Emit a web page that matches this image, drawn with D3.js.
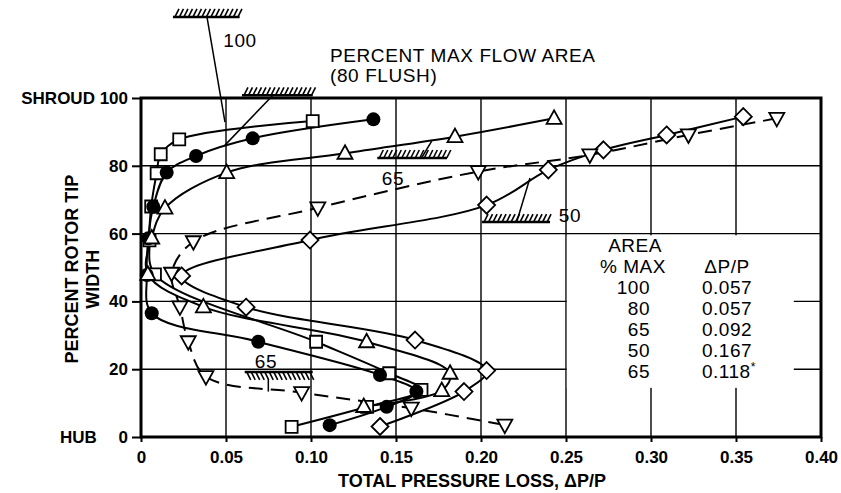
<html>
<head>
<meta charset="utf-8" />
<script src="https://d3js.org/d3.v7.min.js"></script>
<style>
  body { margin: 0; background: #fff; }
  text { font-family: "Liberation Sans", Arial, Helvetica, sans-serif; fill: #000; }
</style>
</head>
<body>
<div id="chart"></div>
<script>
// [loss dP/P, percent span], shroud to hub
const area100 = [[0.101,93.2],[0.0225,87.8],[0.0116,83.4],[0.0092,77.8],[0.006,68],[0.005,58],[0.0082,48],
                 [0.103,28.1],[0.146,18.8],[0.165,13.9],[0.133,8.9],[0.0886,3.0]];
const area80  = [[0.1367,93.7],[0.0657,88.1],[0.0324,82.9],[0.0151,78],[0.0072,67.9],[0.0043,58.6],[0.0034,47.8],
                 [0.0063,36.5],[0.069,28.1],[0.1406,18.3],[0.162,13.4],[0.1445,8.9],[0.111,3.5]];
const area65  = [[0.243,94],[0.1847,88.6],[0.12,83.7],[0.0504,78],[0.0141,67.5],[0.0063,58.7],[0.004,48],
                 [0.0367,38.4],[0.1327,28.1],[0.1818,18.8],[0.1769,13.7],[0.131,9.0]];
const area50  = [[0.3543,94.5],[0.3092,89.1],[0.272,84.7],[0.2396,78.8],[0.2033,68.4],[0.0994,58.1],[0.0239,47.5],
                 [0.0618,38.3],[0.1612,28.6],[0.2033,19.6],[0.19,13.4],[0.1406,3.1]];
const area65b = [[0.374,94],[0.322,89.1],[0.264,83.2],[0.1984,78.3],[0.104,67.6],[0.0308,57.6],[0.018,48.3],
                 [0.0229,38.4],[0.0278,28.1],[0.0382,17.8],[0.0945,13.1],[0.159,8.5],[0.214,3.5]];

const xTicks = [0, 0.05, 0.10, 0.15, 0.20, 0.25, 0.30, 0.35, 0.40];
const yTicks = [0, 20, 40, 60, 80, 100];
const tableArea = ["100", "80", "65", "50", "65"];
const tableLoss = ["0.057", "0.057", "0.092", "0.167", "0.118"];

const W = 841, H = 493;
const x = d3.scaleLinear().domain([0, 0.4]).range([141, 821]);
const y = d3.scaleLinear().domain([0, 100]).range([437, 98]);

const svg = d3.select("#chart").append("svg").attr("width", W).attr("height", H);
svg.append("rect").attr("width", W).attr("height", H).attr("fill", "#fff");

// grid
const grid = svg.append("g").attr("stroke", "#000").attr("stroke-width", 1.4);
grid.selectAll(".vx").data(xTicks.slice(1, -1)).join("line")
  .attr("x1", d => x(d)).attr("x2", d => x(d)).attr("y1", y(0)).attr("y2", y(100));
grid.selectAll(".hy").data(yTicks.slice(1, -1)).join("line")
  .attr("x1", x(0)).attr("x2", x(0.4)).attr("y1", d => y(d)).attr("y2", d => y(d));

// blank area behind the table
svg.append("rect").attr("x", x(0.2505)).attr("y", y(59.5))
  .attr("width", x(0.384) - x(0.2505)).attr("height", y(14.5) - y(59.5)).attr("fill", "#fff");

// axes
const xAxis = svg.append("g").attr("transform", `translate(0,${y(0)})`)
  .call(d3.axisBottom(x).tickValues(xTicks).tickSize(5).tickPadding(9).tickSizeOuter(0)
    .tickFormat(d => d === 0 ? "0" : d3.format(".2f")(d)));
const yAxis = svg.append("g").attr("transform", `translate(${x(0)},0)`)
  .call(d3.axisLeft(y).tickValues(yTicks).tickSize(9).tickPadding(4).tickSizeOuter(0)
    .tickFormat(d => d === 100 ? "SHROUD 100" : d));
[xAxis, yAxis].forEach(a => {
  a.select(".domain").remove();
  a.selectAll("line").attr("stroke", "#000").attr("stroke-width", 2);
  a.selectAll("text").attr("font-size", 17).attr("font-weight", "bold").attr("fill", "#000")
    .style("font-family", '"Liberation Sans", Arial, sans-serif');
});
svg.append("text").attr("x", 60).attr("y", y(0)).attr("dy", "0.35em")
  .attr("font-size", 17).attr("font-weight", "bold").text("HUB");

// frame
svg.append("rect").attr("x", x(0)).attr("y", y(100))
  .attr("width", x(0.4) - x(0)).attr("height", y(0) - y(100))
  .attr("fill", "none").attr("stroke", "#000").attr("stroke-width", 3);

// axis titles
svg.append("text").attr("x", 338).attr("y", 487).attr("font-size", 18).attr("font-weight", "bold")
  .text("TOTAL PRESSURE LOSS, ΔP/P");
svg.append("text").attr("transform", `translate(78,${y(49.5)}) rotate(-90)`).attr("text-anchor", "middle")
  .attr("font-size", 18).attr("font-weight", "bold").text("PERCENT ROTOR TIP");
svg.append("text").attr("transform", `translate(99,${y(46.5)}) rotate(-90)`).attr("text-anchor", "middle")
  .attr("font-size", 18).attr("font-weight", "bold").text("WIDTH");

// series
const line = d3.line().x(d => x(d[0])).y(d => y(d[1])).curve(d3.curveCatmullRom.alpha(0.5));
const sq = "M-6,-6H6V6H-6Z";
const tri = "M0,-8L7.5,5.5H-7.5Z";
const triDown = "M0,8L7.5,-5.5H-7.5Z";
const dia = "M0,-8.5L8.5,0L0,8.5L-8.5,0Z";
const series = [
  { pts: area100, mark: sq, fill: "#fff", dash: null },
  { pts: area80, mark: "circle", fill: "#000", dash: null },
  { pts: area65, mark: tri, fill: "#fff", dash: null },
  { pts: area50, mark: dia, fill: "#fff", dash: null },
  { pts: area65b, mark: triDown, fill: "#fff", dash: "14,8" }
];
series.forEach(s => {
  svg.append("path").attr("d", line(s.pts)).attr("fill", "none").attr("stroke", "#000")
    .attr("stroke-width", 2).attr("stroke-dasharray", s.dash);
});
series.forEach(s => {
  const g = svg.append("g");
  if (s.mark === "circle") {
    g.selectAll("circle").data(s.pts).join("circle")
      .attr("cx", d => x(d[0])).attr("cy", d => y(d[1])).attr("r", 7).attr("fill", "#000");
  } else {
    g.selectAll("path").data(s.pts).join("path").attr("d", s.mark)
      .attr("transform", d => `translate(${x(d[0])},${y(d[1])})`)
      .attr("fill", s.fill).attr("stroke", "#000").attr("stroke-width", 1.8);
  }
});

// hatched wall symbols with leader lines
function hatch(x0, x1, yv, up) {
  const py = y(yv), g = svg.append("g").attr("stroke", "#000");
  g.append("line").attr("x1", x(x0)).attr("x2", x(x1)).attr("y1", py).attr("y2", py).attr("stroke-width", 2.5);
  for (let px = x(x0) + 2; px < x(x1); px += 4.5) {
    g.append("line").attr("x1", px).attr("y1", py).attr("x2", px + 4).attr("y2", up ? py - 8 : py + 8)
      .attr("stroke-width", 1.6);
  }
}
function leader(a, b) {
  svg.append("line").attr("x1", x(a[0])).attr("y1", y(a[1])).attr("x2", x(b[0])).attr("y2", y(b[1]))
    .attr("stroke", "#000").attr("stroke-width", 1.5);
}
hatch(0.0188, 0.058, 123.9, true);  leader([0.0388, 123.9], [0.0494, 92.9]);
hatch(0.0594, 0.101, 100.8, true);  leader([0.0776, 100.8], [0.0494, 86.1]);
hatch(0.139, 0.18, 82.3, true);     leader([0.165, 82.3], [0.171, 87.3]);
hatch(0.2006, 0.2406, 63.4, true);  leader([0.221, 63.4], [0.2288, 76.4]);
hatch(0.061, 0.101, 19.2, false);   leader([0.0749, 17.0], [0.0749, 13.4]);

const ann = svg.append("g").attr("font-size", 19).attr("letter-spacing", 0.6);
ann.append("text").attr("x", 240).attr("y", 47).attr("text-anchor", "middle").text("100");
ann.append("text").attr("x", 330).attr("y", 62).text("PERCENT MAX FLOW AREA");
ann.append("text").attr("x", 330).attr("y", 82).text("(80 FLUSH)");
ann.append("text").attr("x", 393).attr("y", 185).attr("text-anchor", "middle").text("65");
ann.append("text").attr("x", 570).attr("y", 222).attr("text-anchor", "middle").text("50");
ann.append("text").attr("x", 266).attr("y", 368).attr("text-anchor", "middle").text("65");

// table
const tb = svg.append("g").attr("font-size", 19).attr("letter-spacing", 0.5);
tb.append("text").attr("x", 635).attr("y", 252).attr("text-anchor", "middle").text("AREA");
tb.append("text").attr("x", 633).attr("y", 273).attr("text-anchor", "middle").text("% MAX");
tb.append("text").attr("x", 727).attr("y", 273).attr("text-anchor", "middle").text("ΔP/P");
tb.selectAll(".a").data(tableArea).join("text").attr("x", 650).attr("y", (d, i) => 294 + i * 21)
  .attr("text-anchor", "end").text(d => d);
const lossText = tb.selectAll(".l").data(tableLoss).join("text").attr("x", 702)
  .attr("y", (d, i) => 294 + i * 21).text(d => d);
lossText.filter((d, i) => i === tableLoss.length - 1)
  .append("tspan").attr("font-size", 12).attr("dy", -7).text("*");
</script>
</body>
</html>
